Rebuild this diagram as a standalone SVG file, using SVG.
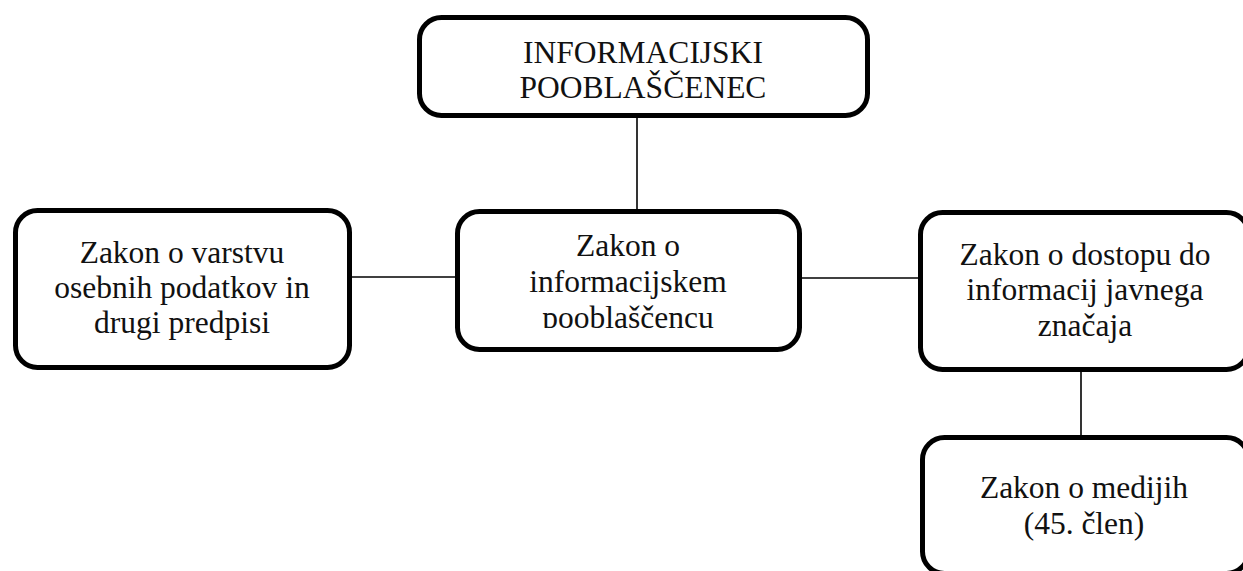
<svg xmlns="http://www.w3.org/2000/svg" width="1243" height="571" viewBox="0 0 1243 571">
  <style>
    .box { fill: #ffffff; stroke: #000000; stroke-width: 5; }
    .conn { stroke: #000000; stroke-width: 1.6; fill: none; }
    .t { font-family: "Liberation Serif", "DejaVu Serif", serif; font-size: 31.5px; fill: #111111; text-anchor: middle; }
  </style>
  <defs>
    <clipPath id="clipCenter">
      <rect x="455" y="209" width="347" height="119"/>
    </clipPath>
  </defs>
  <rect width="1243" height="571" fill="#ffffff"/>
  <g id="connectors">
    <line class="conn" x1="637" y1="118" x2="637" y2="210"/>
    <line class="conn" x1="351" y1="277" x2="456" y2="277"/>
    <line class="conn" x1="801" y1="278" x2="919" y2="278"/>
    <line class="conn" x1="1081" y1="371" x2="1081" y2="436"/>
  </g>
  <g id="node-pooblascenec">
    <rect class="box" x="419.5" y="17.5" width="448" height="98" rx="22"/>
    <text class="t" x="643" y="63">INFORMACIJSKI</text>
    <text class="t" x="643" y="98">POOBLAŠČENEC</text>
  </g>
  <g id="node-zvop">
    <rect class="box" x="15.5" y="210.5" width="334" height="157" rx="22"/>
    <text class="t" x="182" y="263">Zakon o varstvu</text>
    <text class="t" x="182" y="298">osebnih podatkov in</text>
    <text class="t" x="182" y="333">drugi predpisi</text>
  </g>
  <g id="node-zinfp">
    <rect class="box" x="457.5" y="211.5" width="342" height="138" rx="22"/>
    <g clip-path="url(#clipCenter)">
      <text class="t" x="628" y="256">Zakon o</text>
      <text class="t" x="628" y="292">informacijskem</text>
      <text class="t" x="628" y="328">pooblaščencu</text>
    </g>
  </g>
  <g id="node-zdijz">
    <rect class="box" x="920.5" y="212.5" width="328" height="157" rx="22"/>
    <text class="t" x="1085" y="265">Zakon o dostopu do</text>
    <text class="t" x="1085" y="300">informacij javnega</text>
    <text class="t" x="1085" y="336">značaja</text>
  </g>
  <g id="node-zmed">
    <rect class="box" x="922.5" y="437.5" width="326" height="136" rx="22"/>
    <text class="t" x="1084" y="498">Zakon o medijih</text>
    <text class="t" x="1084" y="534">(45. člen)</text>
  </g>
</svg>
